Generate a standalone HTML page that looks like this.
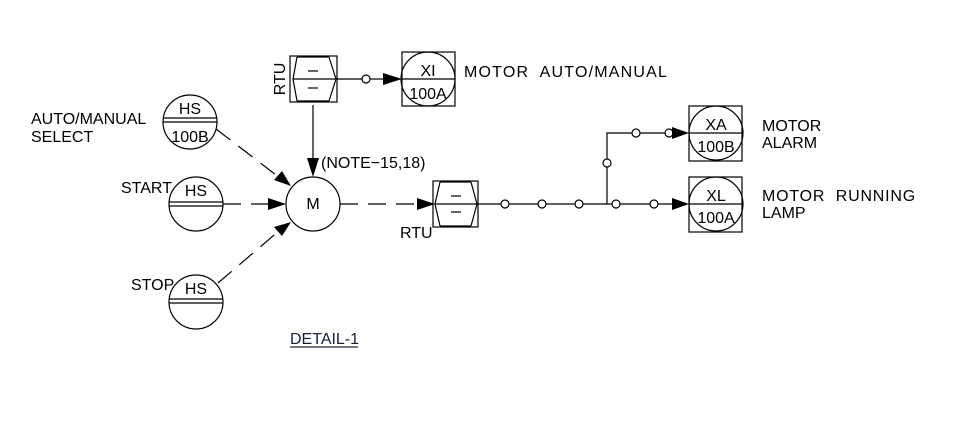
<!DOCTYPE html>
<html><head><meta charset="utf-8"><style>
html,body{margin:0;padding:0;background:#fff;width:974px;height:424px;overflow:hidden}
svg{display:block}
text{font-family:"Liberation Sans",sans-serif;font-size:16px;fill:#000}
</style></head><body>
<svg width="974" height="424" viewBox="0 0 974 424" xmlns="http://www.w3.org/2000/svg">
<g stroke="#000" stroke-width="1.2" fill="none">
<rect x="290" y="56" width="47" height="46"/>
<polyline points="297,57 293,79 297,101"/><polyline points="329,57 336,79 329,101"/>
<line x1="297" y1="57" x2="329" y2="57"/><line x1="297" y1="101" x2="329" y2="101"/>
<line x1="293" y1="79" x2="337" y2="79"/>
<line x1="308" y1="71" x2="318" y2="71"/><line x1="308" y1="88" x2="318" y2="88"/>
<line x1="337" y1="79" x2="362" y2="79"/><circle cx="366" cy="79" r="4"/><line x1="370" y1="79" x2="385" y2="79"/>
<rect x="402" y="52" width="53" height="54"/><circle cx="428" cy="79" r="27"/><line x1="401" y1="79" x2="455" y2="79"/>
<line x1="313" y1="105" x2="313" y2="160"/>
<circle cx="190" cy="122" r="27"/><line x1="163" y1="118" x2="217" y2="118"/><line x1="163" y1="122" x2="217" y2="122"/>
<circle cx="196" cy="204" r="27"/><line x1="169" y1="202" x2="223" y2="202"/><line x1="169" y1="206" x2="223" y2="206"/>
<circle cx="196" cy="302" r="27"/><line x1="169" y1="299" x2="223" y2="299"/><line x1="169" y1="303" x2="223" y2="303"/>
<circle cx="313" cy="204" r="27"/>
<g stroke-dasharray="18,10">
<line x1="216" y1="129" x2="280" y2="178"/>
<line x1="223" y1="204" x2="270" y2="204"/>
<line x1="218" y1="283" x2="280" y2="230"/>
<line x1="340" y1="204" x2="420" y2="204"/>
</g>
<rect x="433" y="181" width="45" height="46"/>
<polyline points="440,182 435,204 440,226"/><polyline points="471,182 477,204 471,226"/>
<line x1="440" y1="182" x2="471" y2="182"/><line x1="440" y1="226" x2="471" y2="226"/>
<line x1="435" y1="204" x2="478" y2="204"/>
<line x1="451" y1="196" x2="461" y2="196"/><line x1="451" y1="212" x2="461" y2="212"/>
<line x1="478" y1="204" x2="501" y2="204"/><circle cx="505" cy="204" r="4"/>
<line x1="509" y1="204" x2="538" y2="204"/><circle cx="542" cy="204" r="4"/>
<line x1="546" y1="204" x2="575" y2="204"/><circle cx="579" cy="204" r="4"/>
<line x1="583" y1="204" x2="612" y2="204"/><circle cx="616" cy="204" r="4"/>
<line x1="620" y1="204" x2="650" y2="204"/><circle cx="654" cy="204" r="4"/>
<line x1="658" y1="204" x2="675" y2="204"/>
<line x1="607" y1="204" x2="607" y2="167"/><circle cx="607" cy="163" r="4"/>
<polyline points="607,159 607,133 632,133"/><circle cx="636" cy="133" r="4"/>
<line x1="640" y1="133" x2="665" y2="133"/><circle cx="669" cy="133" r="4"/>
<rect x="689" y="106" width="53" height="55"/><circle cx="716" cy="133" r="27"/><line x1="689" y1="133" x2="742" y2="133"/>
<rect x="689" y="177" width="53" height="55"/><circle cx="716" cy="204" r="27"/><line x1="689" y1="204" x2="742" y2="204"/>
<line x1="290" y1="347" x2="358" y2="347" stroke="#223"/>
</g>
<g fill="#000">
<polygon points="402,79 383,73 383,85"/>
<polygon points="313,177 307,158 319,158"/>
<polygon points="291,186 274,180 282,171"/>
<polygon points="286,204 268,198 268,210"/>
<polygon points="291,222 282,236 274,227"/>
<polygon points="435,204 417,198 417,210"/>
<polygon points="689,133 672,127 672,139"/>
<polygon points="689,204 672,198 672,210"/>
</g>
<g>
<text x="428" y="76" text-anchor="middle" font-size="15">XI</text>
<text x="428" y="99" text-anchor="middle" font-size="15">100A</text>
<text x="464" y="77" font-size="15" letter-spacing="1.2" xml:space="preserve">MOTOR  AUTO/MANUAL</text>
<text x="285" y="79" font-size="13" text-anchor="middle" transform="rotate(-90 285 79)">RTU</text>
<text x="190" y="114" text-anchor="middle" font-size="16">HS</text>
<text x="190" y="142" text-anchor="middle" font-size="16">100B</text>
<text x="31" y="124" font-size="15">AUTO/MANUAL</text>
<text x="31" y="142" font-size="15">SELECT</text>
<text x="196" y="196" text-anchor="middle" font-size="16">HS</text>
<text x="121" y="193" font-size="15">START</text>
<text x="196" y="294" text-anchor="middle" font-size="16">HS</text>
<text x="131" y="290" font-size="15">STOP</text>
<text x="313" y="209" text-anchor="middle" font-size="14">M</text>
<text x="321" y="168" font-size="16">(NOTE−15,18)</text>
<text x="400" y="238" font-size="15">RTU</text>
<text x="716" y="130" text-anchor="middle" font-size="15">XA</text>
<text x="716" y="152" text-anchor="middle" font-size="15">100B</text>
<text x="716" y="201" text-anchor="middle" font-size="15">XL</text>
<text x="716" y="223" text-anchor="middle" font-size="15">100A</text>
<text x="762" y="131" font-size="15">MOTOR</text>
<text x="762" y="148" font-size="15">ALARM</text>
<text x="762" y="201" font-size="15" letter-spacing="0.8" xml:space="preserve">MOTOR  RUNNING</text>
<text x="762" y="218" font-size="15">LAMP</text>
<text x="290" y="344" font-size="13" style="fill:#1a1f3a">DETAIL-1</text>
</g>
</svg>
</body></html>
